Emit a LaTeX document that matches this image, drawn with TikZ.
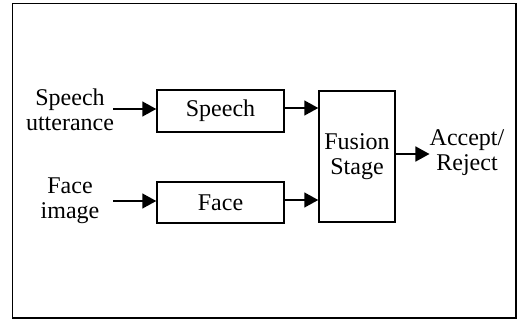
\documentclass[tikz,border=0pt]{standalone}
\usepackage{fontspec}
\setmainfont{Liberation Serif}
\usetikzlibrary{arrows.meta}
\begin{document}
\begin{tikzpicture}[x=1pt,y=-1pt,
  blk/.style={draw,line width=1.5pt,inner sep=0pt},
  lbl/.style={align=center,font=\fontsize{24}{25}\selectfont,inner sep=0pt},
  flow/.style={line width=1.5pt,-{Triangle[length=14pt,width=15pt]}}]
  \useasboundingbox (0,0) rectangle (518,321);
  % outer frame
  \draw[line width=1.5pt] (12.5,3.5) rectangle (516,318);
  % processing blocks
  \node[blk,minimum width=127pt,minimum height=42pt] (sp) at (220.5,111) {};
  \node[lbl] at (sp) {Speech};
  \node[blk,minimum width=127pt,minimum height=41pt] (fc) at (220.5,202.5) {};
  \node[lbl] at (fc) {Face};
  \node[blk,minimum width=76pt,minimum height=131pt] (fu) at (357,156.5) {};
  \node[lbl] at (fu) {Fusion\\Stage};
  % inputs and output
  \node[lbl] (sin) at (70,110) {Speech\\utterance};
  \node[lbl] (fin) at (70,201) {Face\\image};
  \node[lbl] (out) at (467,153) {Accept/\\Reject};
  \coordinate (sa) at (113,109);
  \coordinate (fa) at (113,201);
  % connectors
  \draw[flow] (sa) -- (sp.west |- sa);
  \draw[flow] (fa) -- (fc.west |- fa);
  \draw[flow] (sp.east |- 0,108) -- (fu.west |- 0,108);
  \draw[flow] (fc.east |- 0,200) -- (fu.west |- 0,200);
  \draw[flow] (fu.east |- 0,154) -- (out.west |- 0,154);
\end{tikzpicture}
\end{document}
